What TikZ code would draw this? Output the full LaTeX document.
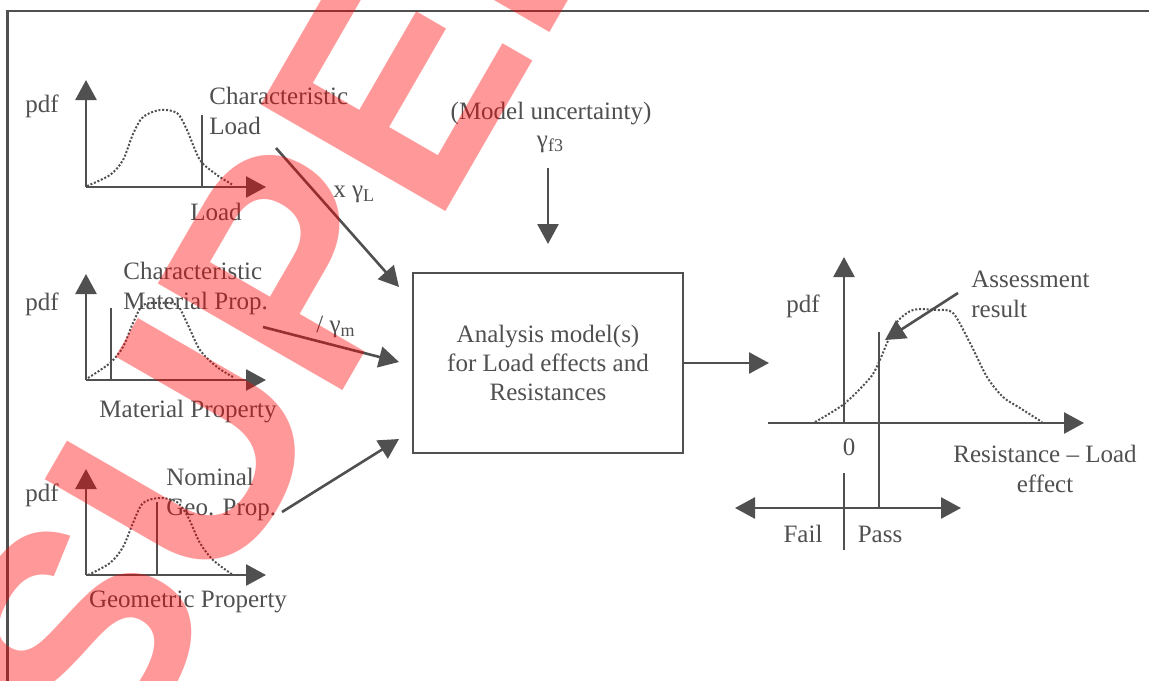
\documentclass[tikz,border=0pt]{standalone}
\usepackage{fontspec}
\setmainfont{Liberation Serif}
\newfontfamily\stampfont{Liberation Sans}
\usetikzlibrary{arrows.meta}
\definecolor{ink}{RGB}{80,80,80}
% lowered subscript in the text font
\newcommand\lowsub[1]{\raisebox{-0.35ex}{\fontsize{9}{9}\selectfont #1}}
\begin{document}
\begin{tikzpicture}[x=0.5pt,y=-0.5pt,
  lbl/.style={text=ink, inner sep=0pt, font=\fontsize{12.5}{15}\selectfont},
  axis/.style={draw=ink, line width=1.3pt, -{Triangle[length=10pt,width=10.5pt]}},
  link/.style={axis},
  twoway/.style={draw=ink, line width=1.3pt, {Triangle[length=10pt,width=10.5pt]}-{Triangle[length=10pt,width=10.5pt]}},
  plain/.style={draw=ink, line width=1.3pt},
  density/.style={draw=ink, line width=1pt, dash pattern=on 1pt off 0.9pt},
  modelbox/.style={draw=ink, line width=1.3pt, minimum width=135pt, minimum height=90pt, align=center}
]
\clip (0,0) rectangle (1149,680);
\fill[white] (0,0) rectangle (1149,680);

% outer frame
\draw[ink, line width=1.4pt] (7.5,700) -- (7.5,11) -- (1160,11);

% ---------- load distribution ----------
\coordinate (o1) at (86,187);
\coordinate (y1) at (86,80);
\coordinate (x1) at (266,187);
\coordinate (c1b) at (202,187);
\coordinate (c1t) at (202,115);
\draw[axis] (o1) -- (y1);
\draw[axis] (o1) -- (x1);
\draw[plain] (c1b) -- (c1t);
\draw[density] plot[smooth] coordinates {(87,186) (110,175) (123,160) (133,134) (143,117) (160,110) (177,113) (187,130) (200,160) (217,175) (233,185)};
\node[lbl, anchor=base] (pdf1) at (42,112) {pdf};
\node[lbl, anchor=west, align=left] (charload) at (209,111) {Characteristic\\Load};
\node[lbl, anchor=base] (load) at (216,220) {Load};
\node[lbl, anchor=base west] (gL) at (333,197) {x γ\lowsub{L}};

% ---------- material distribution ----------
\coordinate (o2) at (86,380);
\coordinate (y2) at (86,274);
\coordinate (x2) at (266,380);
\coordinate (c2b) at (111,380);
\coordinate (c2t) at (111,308);
\draw[axis] (o2) -- (y2);
\draw[axis] (o2) -- (x2);
\draw[plain] (c2b) -- (c2t);
\draw[density] plot[smooth] coordinates {(88,378) (110,363) (123,347) (133,323) (143,305) (160,303) (177,305) (187,323) (200,350) (217,367) (233,377)};
\node[lbl, anchor=base] (pdf2) at (42,310) {pdf};
\node[lbl, anchor=west, align=left] (charmat) at (123,288) {Characteristic\\Material Prop.};
\node[lbl, anchor=base] (matprop) at (188,417) {Material Property};
\node[lbl, anchor=base west] (gm) at (316,332) {/ γ\lowsub{m}};

% ---------- geometric distribution ----------
\coordinate (o3) at (86,575);
\coordinate (y3) at (86,469);
\coordinate (x3) at (266,575);
\coordinate (c3b) at (157,575);
\coordinate (c3t) at (157,502);
\draw[axis] (o3) -- (y3);
\draw[axis] (o3) -- (x3);
\draw[plain] (c3b) -- (c3t);
\draw[density] plot[smooth] coordinates {(88,575) (110,563) (123,547) (133,523) (143,503) (160,498) (177,502) (188,517) (200,543) (213,560) (233,575)};
\node[lbl, anchor=base] (pdf3) at (42,501) {pdf};
\node[lbl, anchor=west, align=left] (nomgeo) at (166,494) {Nominal\\Geo. Prop.};
\node[lbl, anchor=base] (geoprop) at (188,607) {Geometric Property};

% ---------- analysis model ----------
\node[lbl, modelbox, font=\fontsize{12.5}{14.5}\selectfont] (model) at (548,363) {Analysis model(s)\\for Load effects and\\Resistances};
\node[lbl, anchor=base] (mu) at (551,119) {(Model uncertainty)};
\node[lbl, anchor=base] (gf) at (550,147) {γ\lowsub{f3}};

\coordinate (fromL) at (276,148);
\coordinate (inL) at (399,287);
\coordinate (fromM) at (263,327);
\coordinate (inM) at (399,362);
\coordinate (fromG) at (282,512);
\coordinate (inG) at (399,439);
\coordinate (fromU) at (548,168);
\coordinate (inU) at (548,244);
\coordinate (outR) at (769,363);
\draw[link] (fromL) -- (inL);
\draw[link] (fromM) -- (inM);
\draw[link] (fromG) -- (inG);
\draw[link] (fromU) -- (inU);
\draw[link] (model.east) -- (outR);

% ---------- assessment result ----------
\coordinate (o4) at (844,423);
\coordinate (y4) at (844,257);
\coordinate (x4s) at (768,423);
\coordinate (x4) at (1084,423);
\coordinate (r4t) at (879,332);
\coordinate (r4b) at (879,508);
\coordinate (fl) at (735,508);
\coordinate (ps) at (961,508);
\coordinate (z4t) at (844,473);
\coordinate (z4b) at (844,550);
\draw[axis] (o4) -- (y4);
\draw[axis] (x4s) -- (x4);
\draw[plain] (r4t) -- (r4b);
\draw[twoway] (fl) -- (ps);
\draw[plain] (z4t) -- (z4b);
\draw[density] plot[smooth] coordinates {(815,422) (844,404) (870,378) (879,362) (887,343) (897,322) (913,310) (937,310) (953,313) (970,343) (987,377) (1003,397) (1020,408) (1042,422)};
\node[lbl, anchor=base] (pdf4) at (803,312) {pdf};
\node[lbl, anchor=west, align=left] (assess) at (971,294) {Assessment\\result};
\node[lbl, anchor=base] (zero) at (849,455) {0};
\node[lbl, anchor=north, align=center] (rle) at (1045,445) {Resistance -- Load\\effect};
\node[lbl, anchor=base] (fail) at (803,542) {Fail};
\node[lbl, anchor=base] (pass) at (880,542) {Pass};
\coordinate (fromA) at (958,293);
\coordinate (inA) at (885,340);
\draw[link] (fromA) -- (inA);

% ---------- status stamp ----------
\node[anchor=base west, inner sep=0pt, rotate=60, text=red, opacity=0.4,
      font=\stampfont\bfseries\fontsize{155}{155}\selectfont] (stamp) at (117,782) {SUPERSEDED};
\end{tikzpicture}
\end{document}
